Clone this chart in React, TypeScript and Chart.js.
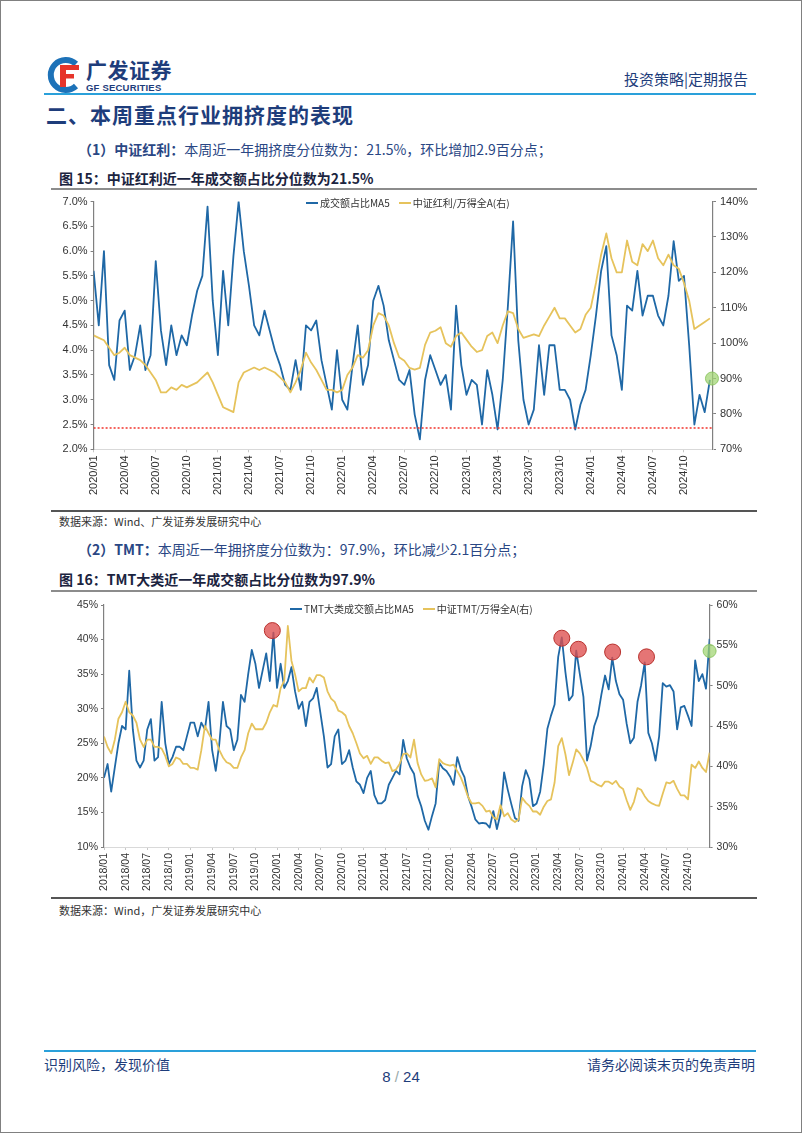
import React, { useEffect, useRef } from "react";
import { Chart, registerables } from "chart.js";

Chart.register(...registerables);

// ---------------- Chart 15: 中证红利 (semi-monthly samples from 2020/01) ----------------
const c1StartYear = 2020;
const c1StepMonths = 0.5;
const c1Turnover = [
  5.6, 4.5, 6.0, 3.7, 3.4, 4.6, 4.8, 3.6, 3.9, 4.5,
  3.6, 3.9, 5.8, 4.4, 3.7, 4.5, 3.9, 4.3, 4.1, 4.7,
  5.2, 5.5, 6.9, 5.0, 3.9, 5.6, 4.5, 5.9, 7.0, 6.0,
  5.3, 4.5, 4.3, 4.8, 4.4, 4.0, 3.7, 3.3, 3.2, 3.8,
  3.2, 4.5, 4.4, 4.6, 3.8, 3.3, 2.8, 4.0, 3.0, 2.8,
  3.7, 4.5, 3.3, 3.7, 5.0, 5.3, 4.9, 4.2, 3.8, 3.4,
  3.3, 3.6, 2.7, 2.2, 3.4, 3.9, 3.6, 3.3, 3.5, 2.8,
  4.9, 3.7, 3.1, 3.4, 3.3, 2.5, 3.6, 3.1, 2.4, 3.4,
  4.9, 6.6, 4.2, 3.0, 2.5, 2.8, 4.1, 3.1, 4.1, 4.1,
  3.2, 3.2, 3.0, 2.4, 2.9, 3.2, 3.9, 4.7, 5.6, 6.1,
  4.3, 3.9, 3.2, 4.9, 4.8, 5.6, 4.7, 5.1, 5.1, 4.7,
  4.5, 5.1, 6.2, 5.4, 5.5, 4.1, 2.5, 3.1, 2.75, 3.4,
];
const c1Relative = [
  102.2, 101.5, 100.8, 98.7, 96.6, 97.3, 98.7, 96.6, 95.9, 95.2,
  93.8, 91.7, 89.6, 86.1, 86.1, 87.5, 86.8, 88.2, 87.5, 88.2,
  88.9, 90.3, 91.7, 88.9, 85.4, 81.9, 81.2, 80.5, 88.9, 91.7,
  92.4, 93.1, 92.4, 93.1, 92.4, 91.7, 90.3, 88.9, 86.1, 88.9,
  92.4, 97.3, 94.5, 92.4, 89.6, 86.8, 86.8, 86.1, 86.8, 91.0,
  93.1, 96.6, 95.9, 98.0, 105.0, 108.5, 107.8, 105.0, 100, 96,
  95, 93, 92.5, 93, 99.5, 103, 103.5, 104.5, 100, 99,
  102, 103, 101, 99, 97.5, 98, 102, 103, 100, 105,
  109, 108.5, 104, 101.5, 102, 102.5, 102, 105, 107.5, 110,
  107, 107, 105, 103, 104, 108, 110, 117, 125, 131,
  124, 120, 120, 129, 123, 122, 128, 126, 129, 124,
  122, 125, 122, 121, 117, 112, 104, 105, 106, 107,
];
const c1Threshold = 2.43;
const c1LatestMark = [{ x: 59.7, y: 90 }]; // right axis
const c1LastTickMonth = 57; // 2024/10

// ---------------- Chart 16: TMT (semi-monthly samples from 2018/01) ----------------
const c2StartYear = 2018;
const c2StepMonths = 0.5;
const c2Turnover = [
  20, 22, 18, 21.5, 25, 27.5, 27, 35.5, 27, 22.5,
  21.5, 22.5, 27, 28.5, 22.5, 23, 31, 25, 22, 23,
  24.5, 24.5, 24, 26, 28, 28, 26, 28, 27, 31,
  24, 21, 25, 31, 27.5, 27, 24, 25.5, 32, 31,
  35, 38.5, 36.5, 33, 35.5, 38, 34, 41, 33, 36.5,
  33, 34, 36, 32.5, 30, 31, 27.5, 31, 31.5, 33,
  29.5, 26, 21.5, 22, 26, 27, 22, 22.5, 24, 21.5,
  19.5, 19, 17.8, 20, 21, 17.5, 16.3, 16.3, 16.8, 19,
  20, 21, 20.5, 25.5, 22.8, 21.5, 20.6, 17.4, 15.9, 13.8,
  12.5, 14.5, 16.3, 22.2, 21.4, 21, 20.2, 19, 23, 21.2,
  20.1, 17.3, 15.8, 14, 13.4, 13.5, 13.4, 12.8, 15.2, 12.6,
  14.8, 20.8, 18.3, 16.2, 14.2, 13.8, 18.8, 21.1, 19.8, 15.9,
  16.3, 18, 22, 27.1, 29, 30.6, 37.5, 40.3, 35.3, 31.2,
  31.9, 38.4, 35, 31.7, 22.5, 24.6, 27.5, 29, 32.1, 34.8,
  32.8, 37.4, 34, 32.1, 31.3, 27.8, 25, 25.8, 31, 33.4,
  36.7, 26.5, 25, 22.5, 26, 33.7, 33.2, 33.4, 32.5, 27,
  30.2, 30.4, 29, 27.5, 37, 34, 35, 32.9, 40.1,
];
const c2Relative = [
  43.7, 42.4, 41.6, 43.3, 45.9, 46.7, 48.0, 46.7, 46.3, 45.4,
  43.3, 42.4, 43.3, 43.3, 42.4, 42.4, 42.2, 41.3, 40.0, 40.3,
  41.1, 40.9, 40.3, 40.3, 39.8, 39.8, 39.6, 42.0, 45.0, 44.1,
  43.3, 43.3, 42.0, 41.1, 40.5, 40.3, 39.8, 39.8, 41.1, 42.0,
  44.1, 45.3, 44.6, 44.6, 44.6, 45.4, 46.7, 47.6, 47.4, 49.7,
  50.6, 57.4, 53.1, 51.4, 49.3, 49.7, 49.7, 51.0, 50.4, 51.3,
  51.3, 51.0, 49.3, 48.4, 48.0, 46.9, 46.7, 46.3, 45.0, 44.1,
  42.9, 41.6, 41.0, 41.3, 40.3, 41.1, 41.1, 40.7, 40.4, 40.5,
  39.4, 39.6, 40.3, 41.5, 41.6, 41.1, 43.3, 40.4, 39.0, 38.2,
  38.3, 38.5, 37.4, 40.9, 40.4, 40.2, 40.1, 40.2, 39.4, 38.6,
  37.5, 36.2, 35.4, 35.4, 35.5, 35.1, 34.4, 34.5, 33.7, 33.4,
  35.2, 33.8, 34.2, 33.4, 33.1, 33.4, 36.1, 35.5, 35.1, 34.4,
  34.4, 34.0, 35.0, 35.7, 35.9, 38.0, 42.5, 43.5, 41.5, 38.9,
  40.4, 42.1, 41.6, 40.8, 39.8, 38.2, 38.0, 37.7, 37.5, 38.1,
  38.1, 37.8, 38.2, 37.5, 37.2, 35.8, 34.6, 35.6, 37.3, 37.1,
  36.3, 35.7, 35.4, 35.2, 35.1, 36.6, 38.0, 37.9, 38.2, 37.2,
  36.4, 36.4, 35.9, 40.2, 39.8, 40.6, 39.8, 39.3, 41.7,
];
const c2PeakMarks = [
  { x: 23.35, y: 41.3 },
  { x: 63.5, y: 40.2 },
  { x: 65.8, y: 38.6 },
  { x: 70.55, y: 38.2 },
  { x: 75.25, y: 37.5 },
]; // left axis
const c2LatestMark = [{ x: 84, y: 54.3 }]; // right axis
const c2LastTickMonth = 81; // 2024/10

const BLUE = "#1f68a6";
const GOLD = "#e6c35c";
const NAVY = "#1e3d7b";
const CJK = "'Noto Sans CJK SC', 'Noto Sans', sans-serif";
const LATIN = "'Liberation Sans', Arial, sans-serif";

type Pt = { x: number; y: number };
interface Spec {
  startYear: number;
  step: number;
  xMax: number;
  lastTick: number;
  turnover: number[];
  relative: number[];
  yMin: number; yMax: number; yStep: number; yDec: number;
  y1Min: number; y1Max: number; y1Step: number;
  threshold?: number;
  leftMarks: Pt[];
  rightMarks: Pt[];
  markRadius: number;
  padTop: number; leftW: number; rightW: number; xH: number;
  fontSize: number;
  width: number; height: number;
}

function DualChart({ spec, left, top }: { spec: Spec; left: number; top: number }) {
  const ref = useRef<HTMLCanvasElement>(null);
  useEffect(() => {
    const canvas = ref.current!;
    const toPts = (arr: number[]) => arr.map((v, i) => ({ x: i * spec.step, y: v }));
    const quarterTicks: number[] = [];
    for (let m = 0; m <= spec.lastTick; m += 3) quarterTicks.push(m);
    const fmt = (v: number) => {
      const m = Math.round(v);
      const y = spec.startYear + Math.floor(m / 12);
      const mm = (m % 12) + 1;
      return `${y}/${mm < 10 ? "0" + mm : mm}`;
    };
    const font = { family: LATIN, size: spec.fontSize };
    const datasets: any[] = [
      { data: toPts(spec.turnover), borderColor: BLUE, borderWidth: 1.8, pointRadius: 0, yAxisID: "y", order: 3, tension: 0, borderJoinStyle: "round" },
      { data: toPts(spec.relative), borderColor: GOLD, borderWidth: 1.8, pointRadius: 0, yAxisID: "y1", order: 2, tension: 0, borderJoinStyle: "round" },
    ];
    if (spec.threshold !== undefined) {
      datasets.push({
        data: [{ x: 0, y: spec.threshold }, { x: spec.xMax, y: spec.threshold }],
        borderColor: "#f2332b", borderWidth: 1.5, borderDash: [2, 2], pointRadius: 0, yAxisID: "y", order: 1,
      });
    }
    if (spec.leftMarks.length) {
      datasets.push({
        data: spec.leftMarks, showLine: false, pointRadius: spec.markRadius + 1.5, pointBackgroundColor: "rgba(222,78,78,0.78)",
        pointBorderColor: "#b8322e", pointBorderWidth: 1, yAxisID: "y", order: 0, clip: false,
      });
    }
    datasets.push({
      data: spec.rightMarks, showLine: false, pointRadius: spec.markRadius, pointBackgroundColor: "rgba(160,212,112,0.72)",
      pointBorderColor: "rgba(140,196,96,0.9)", pointBorderWidth: 1, yAxisID: "y1", order: 0, clip: false,
    });
    const chart = new Chart(canvas, {
      type: "line",
      data: { datasets },
      options: {
        animation: false,
        responsive: false,
        maintainAspectRatio: false,
        events: [],
        layout: { padding: { top: spec.padTop, left: 0, right: 0, bottom: 0 } },
        plugins: { legend: { display: false }, tooltip: { enabled: false } },
        scales: {
          x: {
            type: "linear",
            min: 0,
            max: spec.xMax,
            afterBuildTicks: (s: any) => { s.ticks = quarterTicks.map((v) => ({ value: v })); },
            afterFit: (s: any) => { s.height = spec.xH; },
            grid: { display: true, drawOnChartArea: false, drawTicks: true, tickLength: 3, color: "#c8c8c8" },
            border: { display: true, color: "#d9d9d9", width: 1 },
            ticks: { autoSkip: false, maxRotation: 90, minRotation: 90, padding: 3, font, color: "#333", callback: (v: any) => fmt(Number(v)) },
          },
          y: {
            position: "left",
            min: spec.yMin, max: spec.yMax,
            afterFit: (s: any) => { s.width = spec.leftW; },
            grid: { display: true, drawOnChartArea: false, drawTicks: true, tickLength: 3, color: "#808080" },
            border: { display: true, color: "#808080", width: 1.2 },
            ticks: { stepSize: spec.yStep, padding: 3, font, color: "#333", callback: (v: any) => Number(v).toFixed(spec.yDec) + "%" },
          },
          y1: {
            position: "right",
            min: spec.y1Min, max: spec.y1Max,
            afterFit: (s: any) => { s.width = spec.rightW; },
            grid: { display: true, drawOnChartArea: false, drawTicks: true, tickLength: 3, color: "#808080" },
            border: { display: true, color: "#808080", width: 1.2 },
            ticks: { stepSize: spec.y1Step, padding: 4, font, color: "#333", callback: (v: any) => Number(v).toFixed(0) + "%" },
          },
        },
      } as any,
    });
    return () => chart.destroy();
  }, [spec]);
  return (
    <canvas
      ref={ref}
      width={spec.width}
      height={spec.height}
      style={{ position: "absolute", left, top, width: spec.width, height: spec.height }}
    />
  );
}

const spec1: Spec = {
  startYear: c1StartYear, step: c1StepMonths, xMax: 59.8, lastTick: c1LastTickMonth,
  turnover: c1Turnover, relative: c1Relative,
  yMin: 2, yMax: 7, yStep: 0.5, yDec: 1,
  y1Min: 70, y1Max: 140, y1Step: 10,
  threshold: c1Threshold,
  leftMarks: [], rightMarks: c1LatestMark, markRadius: 6.5,
  padTop: 6.7, leftW: 42.6, rightW: 44, xH: 59.7,
  fontSize: 11, width: 706, height: 318,
};

const spec2: Spec = {
  startYear: c2StartYear, step: c2StepMonths, xMax: 84, lastTick: c2LastTickMonth,
  turnover: c2Turnover, relative: c2Relative,
  yMin: 10, yMax: 45, yStep: 5, yDec: 0,
  y1Min: 30, y1Max: 60, y1Step: 5,
  leftMarks: c2PeakMarks, rightMarks: c2LatestMark, markRadius: 6.5,
  padTop: 12, leftW: 53, rightW: 47.4, xH: 48,
  fontSize: 10.5, width: 706, height: 302,
};

function LegendItem({ color, text }: { color: string; text: string }) {
  return (
    <span style={{ display: "inline-flex", alignItems: "center", marginRight: 9 }}>
      <span style={{ display: "inline-block", width: 12, height: 2, background: color, marginRight: 2 }} />
      <span>{text}</span>
    </span>
  );
}

function Logo() {
  return (
    <svg width="38" height="38" viewBox="0 0 38 38" style={{ position: "absolute", left: 45, top: 55 }}>
      <path d="M30 8 A15 15 0 1 0 30 30" fill="none" stroke="#1d72b8" strokeWidth="6" />
      <rect x="14" y="9" width="6" height="22" fill="#e6352b" />
      <rect x="14" y="9" width="19" height="5" fill="#e6352b" />
      <rect x="14" y="18" width="14" height="4.5" fill="#e6352b" />
    </svg>
  );
}

const abs = (left: number, top: number, extra: React.CSSProperties = {}): React.CSSProperties => ({
  position: "absolute", left, top, whiteSpace: "nowrap", ...extra,
});

export default function App() {
  return (
    <div
      style={{
        position: "relative", width: 802, height: 1133, boxSizing: "border-box",
        border: "1px solid #808080", background: "#fff", fontFamily: CJK, overflow: "hidden",
      }}
    >
      <style>{`body{margin:0}`}</style>
      <Logo />
      <div style={abs(85, 55, { fontSize: 21, fontWeight: 700, color: NAVY, lineHeight: "26px", letterSpacing: 0.5 })}>广发证券</div>
      <div style={abs(85, 81, { fontSize: 9.5, fontWeight: 700, color: NAVY, fontFamily: LATIN, lineHeight: "11px", letterSpacing: 0.2 })}>GF SECURITIES</div>
      <div style={{ position: "absolute", right: 53, top: 68, fontSize: 15, color: NAVY, lineHeight: "20px", whiteSpace: "nowrap" }}>投资策略|定期报告</div>
      <div style={{ position: "absolute", left: 43, top: 92, width: 712, height: 2, background: "#2aa0da" }} />

      <div style={abs(45, 99, { fontSize: 21, fontWeight: 700, color: NAVY, lineHeight: "28px", letterSpacing: 1 })}>二、本周重点行业拥挤度的表现</div>

      <div style={abs(77, 138, { fontSize: 14, color: "#2a4784", lineHeight: "20px" })}>
        <b>（1）中证红利：</b>本周近一年拥挤度分位数为：21.5%，环比增加2.9百分点；
      </div>
      <div style={abs(58, 167, { fontSize: 14, fontWeight: 700, color: "#1b2440", lineHeight: "20px" })}>图 15：中证红利近一年成交额占比分位数为21.5%</div>
      <div style={{ position: "absolute", left: 50, top: 187, width: 706, height: 2, background: "#8c8c8c" }} />

      <DualChart spec={spec1} left={50} top={190} />
      <div style={abs(305, 196, { fontSize: 10, color: "#333", lineHeight: "12px", display: "flex" })}>
        <LegendItem color={BLUE} text="成交额占比MA5" />
        <LegendItem color={GOLD} text="中证红利/万得全A(右)" />
      </div>

      <div style={{ position: "absolute", left: 50, top: 509, width: 706, height: 1.5, background: "#555" }} />
      <div style={abs(58, 512, { fontSize: 11, color: "#333", lineHeight: "16px" })}>数据来源：Wind、广发证券发展研究中心</div>

      <div style={abs(77, 538, { fontSize: 14, color: "#2a4784", lineHeight: "20px" })}>
        <b>（2）TMT：</b>本周近一年拥挤度分位数为：97.9%，环比减少2.1百分点；
      </div>
      <div style={abs(58, 568, { fontSize: 14, fontWeight: 700, color: "#1b2440", lineHeight: "20px" })}>图 16：TMT大类近一年成交额占比分位数为97.9%</div>
      <div style={{ position: "absolute", left: 50, top: 589, width: 706, height: 2, background: "#8c8c8c" }} />

      <DualChart spec={spec2} left={50} top={592} />
      <div style={abs(289, 602, { fontSize: 10, color: "#333", lineHeight: "12px", display: "flex" })}>
        <LegendItem color={BLUE} text="TMT大类成交额占比MA5" />
        <LegendItem color={GOLD} text="中证TMT/万得全A(右)" />
      </div>

      <div style={{ position: "absolute", left: 50, top: 896, width: 706, height: 1.5, background: "#555" }} />
      <div style={abs(58, 901, { fontSize: 11, color: "#333", lineHeight: "16px" })}>数据来源：Wind，广发证券发展研究中心</div>

      <div style={{ position: "absolute", left: 43, top: 1049, width: 712, height: 2, background: "#2aa0da" }} />
      <div style={abs(43, 1053, { fontSize: 14, color: NAVY, lineHeight: "20px" })}>识别风险，发现价值</div>
      <div style={{ position: "absolute", right: 46, top: 1053, fontSize: 14, color: NAVY, lineHeight: "20px", whiteSpace: "nowrap" }}>请务必阅读末页的免责声明</div>
      <div style={{ position: "absolute", left: 0, width: 800, top: 1066, textAlign: "center", fontSize: 15, color: NAVY, lineHeight: "20px", fontFamily: LATIN }}>
        8 <span style={{ color: "#9aa" }}>/</span> 24
      </div>
    </div>
  );
}
